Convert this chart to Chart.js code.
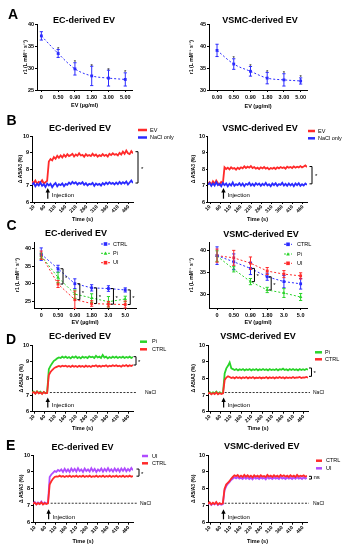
<!DOCTYPE html>
<html><head><meta charset="utf-8">
<script src="https://cdn.jsdelivr.net/npm/chart.js@4.4.0/dist/chart.umd.min.js"></script>
<style>
html,body{margin:0;padding:0;background:#fff;}
#fig{position:relative;width:347px;height:550px;overflow:hidden;background:#fff;}
.cv{position:absolute;}
.lt{position:absolute;font:bold 14px 'Liberation Sans',Arial,sans-serif;line-height:14px;color:#000;z-index:5;}
</style></head><body>
<div id="fig">
<div class="lt" style="left:8px;top:7px">A</div>
<div class="lt" style="left:6.5px;top:113px">B</div>
<div class="lt" style="left:6.5px;top:218px">C</div>
<div class="lt" style="left:6px;top:332px">D</div>
<div class="lt" style="left:6px;top:438px">E</div>
</div>
<script>
// ---------- data ----------
const DOSE_EC_A = ['0','0.50','0.90','1.80','3.00','5.00'];
const DOSE_VSMC_A = ['0.00','0.50','0.90','1.80','3.00','5.00'];
const DOSE_C = ['0','0.50','0.90','1.80','3.0','5.0'];

const A_EC_MEAN = [37.3,33.3,29.8,28.2,27.7,27.4];
const A_EC_ERR  = [0.95,0.9,1.4,2.2,1.8,1.5];
const A_VSMC_MEAN = [39.0,35.9,34.25,32.7,32.3,32.05];
const A_VSMC_ERR  = [1.4,1.2,1.1,1.3,1.4,0.7];

const C_EC_CTRL = [38.5,34.3,30.0,28.8,28.6,28.2];
const C_EC_CTRL_ERR = [1.8,1.0,1.4,0.9,0.8,0.6];
const C_EC_PI = [38.0,31.8,27.0,25.9,24.8,25.6];
const C_EC_PI_ERR = [0.8,1.5,1.2,1.2,1.5,0.8];
const C_EC_UI = [38.2,29.9,25.4,24.3,24.1,24.0];
const C_EC_UI_ERR = [1.2,1.0,2.5,0.8,0.8,1.0];

const C_VSMC_CTRL = [38.9,37.5,36.0,34.1,33.0,32.5];
const C_VSMC_CTRL_ERR = [2.0,1.8,1.4,0.8,1.4,1.2];
const C_VSMC_PI = [38.8,35.8,33.0,31.1,30.4,29.5];
const C_VSMC_PI_ERR = [1.2,0.6,0.7,0.6,1.0,0.8];
const C_VSMC_UI = [38.9,38.4,37.2,35.4,34.7,34.3];
const C_VSMC_UI_ERR = [1.5,1.7,1.4,0.8,0.8,0.7];

const TIME_TICKS = [10,60,110,160,210,260,310,360,410,460];
const TIME_S = [0,8,16,24,32,40,48,56,64,72,80,88,96,104,112,120,128,136,144,152,160,168,176,184,192,200,208,216,224,232,240,248,256,264,272,280,288,296,304,312,320,328,336,344,352,360,368,376,384,392,400,408,416,424,432,440,448,456,464,472,480];

const B_EC_EV = [7.25,7.15,7.30,7.10,7.22,7.18,7.32,7.12,7.20,7.28,
 8.45,8.60,8.52,8.72,8.62,8.80,8.68,8.82,8.70,8.86,
 8.74,8.90,8.78,8.84,8.92,8.76,8.88,8.80,8.95,8.82,
 8.86,8.74,8.90,8.80,8.85,8.78,8.92,8.80,8.88,8.75,
 8.84,8.78,8.90,8.80,8.86,8.76,8.92,8.84,8.95,8.86,
 8.90,8.82,8.98,8.88,9.05,8.92,9.12,8.95,8.90,9.08,8.95];
const B_EC_NACL = [7.05,7.15,6.95,7.10,7.00,7.18,6.98,7.08,6.92,7.12,
 7.00,7.10,6.90,7.05,7.15,6.95,7.08,7.02,7.12,6.96,
 7.10,7.04,7.18,7.08,7.22,7.12,7.20,7.06,7.16,7.10,
 7.20,7.04,7.14,7.00,7.10,7.06,7.16,6.98,7.12,7.04,
 7.10,7.00,7.15,7.05,7.18,7.08,7.20,7.10,7.16,7.06,
 7.18,7.08,7.22,7.10,7.20,7.12,7.24,7.06,7.18,7.30,7.15];
const B_VSMC_EV = [7.10,7.20,7.05,7.25,7.10,7.30,7.15,7.05,7.22,7.12,
 8.10,8.00,8.08,7.98,8.10,8.02,8.06,7.96,8.08,8.00,
 8.10,8.04,8.16,8.06,8.14,8.08,8.18,8.06,8.12,8.02,
 8.08,8.00,8.10,8.04,8.12,8.02,8.08,7.98,8.06,8.02,
 8.08,8.00,8.10,8.04,8.12,8.06,8.10,8.02,8.14,8.08,
 8.12,8.06,8.16,8.08,8.14,8.10,8.18,8.10,8.15,8.22,8.12];
const B_VSMC_NACL = [7.05,7.15,6.98,7.12,7.00,7.20,7.02,7.10,6.95,7.15,
 7.02,7.12,6.95,7.10,7.00,7.18,6.98,7.08,7.02,7.14,
 7.00,7.12,6.96,7.10,7.04,7.16,7.00,7.10,6.98,7.14,
 7.04,7.12,6.98,7.10,7.02,7.16,7.00,7.08,6.96,7.12,
 7.02,7.14,6.98,7.08,7.04,7.16,7.00,7.10,6.98,7.12,
 7.00,7.10,6.96,7.12,7.02,7.14,6.98,7.08,7.00,7.12,7.04];

const D_EC_PI = [7.15,7.20,7.10,7.22,7.12,7.20,7.10,7.18,7.12,7.15,
 8.55,8.75,8.90,9.05,9.12,9.20,9.25,9.22,9.30,9.24,
 9.30,9.22,9.28,9.20,9.30,9.24,9.32,9.22,9.28,9.20,
 9.30,9.24,9.28,9.22,9.32,9.26,9.30,9.22,9.35,9.25,
 9.30,9.22,9.40,9.25,9.30,9.20,9.28,9.22,9.30,9.24,
 9.30,9.22,9.28,9.24,9.30,9.22,9.28,9.24,9.30,9.22,9.28];
const D_EC_CTRL = [7.12,7.18,7.08,7.20,7.10,7.16,7.06,7.18,7.10,7.12,
 8.20,8.38,8.50,8.60,8.66,8.70,8.74,8.70,8.76,8.72,
 8.76,8.70,8.74,8.68,8.76,8.70,8.74,8.68,8.75,8.70,
 8.74,8.68,8.76,8.70,8.74,8.68,8.76,8.72,8.78,8.70,
 8.75,8.70,8.76,8.72,8.78,8.70,8.76,8.72,8.78,8.74,
 8.78,8.72,8.76,8.70,8.78,8.74,8.80,8.72,8.78,8.74,8.80];
const D_VSMC_PI = [7.12,7.18,7.08,7.16,7.10,7.20,7.08,7.16,7.10,7.12,
 8.30,8.60,8.75,8.95,8.60,8.55,8.50,8.56,8.48,8.55,
 8.50,8.56,8.48,8.54,8.50,8.56,8.48,8.55,8.50,8.56,
 8.48,8.54,8.50,8.56,8.50,8.55,8.48,8.56,8.50,8.54,
 8.50,8.56,8.48,8.55,8.52,8.58,8.50,8.55,8.48,8.56,
 8.50,8.56,8.50,8.54,8.48,8.56,8.50,8.55,8.50,8.56,8.52];
const D_VSMC_CTRL = [7.08,7.14,7.04,7.12,7.06,7.16,7.04,7.12,7.06,7.10,
 7.90,8.05,8.12,8.08,8.02,8.06,8.00,8.08,8.02,8.06,
 8.00,8.06,8.02,8.08,8.00,8.06,8.02,8.08,8.00,8.05,
 8.02,8.06,8.00,8.05,8.02,8.08,8.00,8.06,8.02,8.06,
 8.00,8.06,8.02,8.08,8.02,8.06,8.00,8.07,8.02,8.06,
 8.02,8.08,8.02,8.06,8.04,8.08,8.02,8.06,8.04,8.08,8.04];

const E_EC_UI = [7.15,7.22,7.10,7.20,7.12,7.25,7.10,7.20,7.14,7.18,
 8.70,8.85,8.95,9.05,9.00,9.12,9.05,9.15,9.00,9.18,
 9.02,9.15,9.00,9.20,9.05,9.18,9.02,9.22,9.05,9.15,
 9.00,9.20,9.05,9.15,9.02,9.22,9.05,9.18,9.00,9.15,
 9.05,9.20,9.02,9.18,9.05,9.22,9.04,9.16,9.02,9.20,
 9.05,9.18,9.02,9.20,9.06,9.22,9.04,9.18,9.06,9.24,9.10];
const E_EC_CTRL = [7.12,7.18,7.08,7.16,7.10,7.20,7.08,7.16,7.10,7.14,
 8.25,8.45,8.60,8.70,8.74,8.72,8.78,8.72,8.76,8.70,
 8.76,8.72,8.78,8.70,8.76,8.72,8.78,8.70,8.76,8.72,
 8.78,8.70,8.76,8.72,8.78,8.70,8.75,8.72,8.78,8.70,
 8.76,8.72,8.78,8.70,8.76,8.72,8.78,8.70,8.76,8.72,
 8.78,8.70,8.76,8.72,8.78,8.70,8.76,8.72,8.78,8.72,8.76];
const E_VSMC_CTRL = [7.12,7.20,7.08,7.18,7.10,7.22,7.08,7.16,7.10,7.14,
 8.00,8.25,8.35,8.45,8.60,8.70,8.80,8.75,8.82,8.70,
 8.78,8.70,8.82,8.72,8.80,8.70,8.78,8.68,8.80,8.72,
 8.78,8.70,8.80,8.72,8.76,8.70,8.82,8.72,8.78,8.70,
 8.80,8.72,8.78,8.70,8.82,8.74,8.80,8.72,8.78,8.70,
 8.80,8.72,8.78,8.70,8.82,8.72,8.78,8.74,8.80,8.72,8.78];
const E_VSMC_UI = [7.10,7.16,7.05,7.14,7.08,7.18,7.05,7.12,7.06,7.10,
 7.90,8.15,8.30,8.40,8.52,8.60,8.68,8.62,8.70,8.60,
 8.66,8.58,8.70,8.60,8.68,8.58,8.66,8.56,8.70,8.60,
 8.66,8.58,8.68,8.60,8.66,8.56,8.70,8.60,8.66,8.58,
 8.68,8.60,8.66,8.58,8.70,8.60,8.66,8.58,8.68,8.60,
 8.66,8.58,8.68,8.60,8.70,8.60,8.66,8.58,8.68,8.60,8.66];

const INJECTION_T = 75;
const NACL_LEVEL = 7.15;

// ---------- styling ----------
const F = "'Liberation Sans', Arial, sans-serif";
Chart.defaults.font.family = F;
Chart.defaults.color = '#000';
const RED='#ff2a2a', BLUE='#2b2bff', GREEN='#2ad42a', PURPLE='#b04cff';
const R1 = 'r1 (L mM\u207B\u00B9 s\u207B\u00B9)';
const DY = '\u0394 A5/A3 (%)';

const gridOpt = ()=>({drawOnChartArea:false,drawTicks:true,tickLength:2,tickColor:'#000',tickWidth:1});
const borderOpt = ()=>({display:true,color:'#000',width:1});
function axisY(min,max,ticks,wy,title){
  return {type:'linear',position:'left',min,max,
    afterBuildTicks:s=>{s.ticks=ticks.map(v=>({value:v}));},
    afterFit:s=>{s.width=wy;},
    grid:gridOpt(),border:borderOpt(),
    ticks:{font:{size:5.5,weight:'bold'},color:'#000',padding:1},
    title:{display:true,text:title,font:{size:5,weight:'bold'},color:'#000',padding:0}};
}
function axisDose(min,max,labels,hx){
  return {type:'linear',position:'bottom',min,max,
    afterBuildTicks:s=>{s.ticks=labels.map((l,i)=>({value:i}));},
    afterFit:s=>{s.height=hx;},
    grid:gridOpt(),border:borderOpt(),
    ticks:{font:{size:5.5,weight:'bold'},color:'#000',padding:2,autoSkip:false,maxRotation:0,minRotation:0,
      callback:v=>labels[Math.round(v)]},
    title:{display:true,text:'EV (\u00B5g/ml)',font:{size:5.5,weight:'bold'},color:'#000',padding:0}};
}
function axisTime(hx){
  return {type:'linear',position:'bottom',min:0,max:480,
    afterBuildTicks:s=>{s.ticks=TIME_TICKS.map(v=>({value:v}));},
    afterFit:s=>{s.height=hx;},
    grid:gridOpt(),border:borderOpt(),
    ticks:{font:{size:5,weight:'bold'},color:'#000',padding:0,autoSkip:false,maxRotation:45,minRotation:45},
    title:{display:true,text:'Time (s)',font:{size:5.5,weight:'bold'},color:'#000',padding:0}};
}
function doseDS(vals,color,marker,tension){
  return {data:vals.map((v,i)=>({x:i,y:v})),borderColor:color,backgroundColor:color,borderWidth:1,
    borderDash:[2,2],tension:tension,cubicInterpolationMode:tension?'monotone':'default',
    pointStyle:marker,pointRadius:2,pointBackgroundColor:color,pointBorderColor:color,pointBorderWidth:0};
}
function tsDS(vals,color){
  return {data:vals.map((v,i)=>({x:TIME_S[i],y:v})),borderColor:color,backgroundColor:color,
    borderWidth:1.8,pointRadius:0,tension:0};
}
function marker(ctx,x,y,style,color,r){
  ctx.fillStyle=color;
  if(style==='triangle'){ctx.beginPath();ctx.moveTo(x,y-r);ctx.lineTo(x+r,y+r*0.8);ctx.lineTo(x-r,y+r*0.8);ctx.closePath();ctx.fill();}
  else ctx.fillRect(x-r,y-r,2*r,2*r);
}

function annoPlugin(spec){
  return {id:'anno',afterDatasetsDraw(chart){
    const a=spec.anno, ctx=chart.ctx, xs=chart.scales.x, ys=chart.scales.y, ca=chart.chartArea;
    const ox=spec.rect[0], oy=spec.rect[1];
    const px=v=>xs.getPixelForValue(v), py=v=>ys.getPixelForValue(v);
    ctx.save();
    ctx.lineCap='butt';
    if(a.err) a.err.forEach(e=>{
      ctx.strokeStyle=e.color;ctx.lineWidth=1;ctx.beginPath();
      e.vals.forEach((v,i)=>{const x=px(i),t=py(v+e.errs[i]),b=py(v-e.errs[i]);
        ctx.moveTo(x,t);ctx.lineTo(x,b);ctx.moveTo(x-1.6,t);ctx.lineTo(x+1.6,t);ctx.moveTo(x-1.6,b);ctx.lineTo(x+1.6,b);});
      ctx.stroke();});
    if(a.stars){const s=a.stars;ctx.fillStyle='#000';ctx.font='6px '+F;ctx.textAlign='center';ctx.textBaseline='alphabetic';
      s.vals.forEach((v,i)=>{if(i<s.from)return;ctx.fillText('*',px(i),py(v+s.errs[i])+1.5);});}
    if(a.brackets) a.brackets.forEach(b=>{
      const x=(b.xi!=null?px(b.xi):ca.right)+b.dx, y1=py(b.v1), y2=py(b.v2);
      ctx.strokeStyle='#000';ctx.lineWidth=1;ctx.beginPath();
      ctx.moveTo(x-2.5,y1);ctx.lineTo(x,y1);ctx.lineTo(x,y2);ctx.lineTo(x-2.5,y2);ctx.stroke();
      if(b.text){ctx.fillStyle='#000';ctx.font='6px '+F;ctx.textAlign='left';ctx.textBaseline='middle';
        ctx.fillText(b.text,x+b.tdx,(y1+y2)/2+(b.text==='*'?1.5:0));}
    });
    if(a.arrow){const r=a.arrow,x=px(r.t),yt=py(r.vTop),yb=py(r.vBot);
      ctx.strokeStyle='#000';ctx.fillStyle='#000';ctx.lineWidth=1.2;
      ctx.beginPath();ctx.moveTo(x,yb);ctx.lineTo(x,yt+3);ctx.stroke();
      ctx.beginPath();ctx.moveTo(x,yt);ctx.lineTo(x-2.2,yt+4.5);ctx.lineTo(x+2.2,yt+4.5);ctx.closePath();ctx.fill();
      ctx.font='6px '+F;ctx.textAlign='left';ctx.textBaseline='middle';ctx.fillText(r.text,x+4,py(r.vText));}
    if(a.nacl){const n=a.nacl,y=py(n.v);
      ctx.strokeStyle='#000';ctx.lineWidth=0.8;ctx.setLineDash([2,1.5]);ctx.beginPath();
      ctx.moveTo(px(n.t0),y);ctx.lineTo(ca.right+n.ext,y);ctx.stroke();ctx.setLineDash([]);
      ctx.fillStyle='#000';ctx.font='5px '+F;ctx.textAlign='left';ctx.textBaseline='middle';ctx.fillText('NaCl',n.tx-ox,y);}
    if(a.title){ctx.fillStyle='#000';ctx.font='bold 9px '+F;ctx.textAlign='center';ctx.textBaseline='middle';
      ctx.fillText(a.title.text,a.title.x-ox,a.title.y-oy);}
    if(a.legend){const L=a.legend;
      L.items.forEach(it=>{const y=it.y-oy,x0=L.sx0-ox,x1=L.sx1-ox;ctx.strokeStyle=it.color;
        if(L.style==='band'){ctx.lineWidth=2.5;ctx.beginPath();ctx.moveTo(x0,y);ctx.lineTo(x1,y);ctx.stroke();}
        else{ctx.lineWidth=1;ctx.setLineDash([2,1.5]);ctx.beginPath();ctx.moveTo(x0,y);ctx.lineTo(x1,y);ctx.stroke();ctx.setLineDash([]);
          marker(ctx,(x0+x1)/2,y,it.marker,it.color,1.8);}
        ctx.fillStyle='#000';ctx.font='5.5px '+F;ctx.textAlign='left';ctx.textBaseline='middle';ctx.fillText(it.label,L.tx-ox,y);});}
    ctx.restore();
  }};
}

const fig=document.getElementById('fig');
function build(spec){
  const [cx,cy,cw,ch]=spec.rect, [x0,y0,x1,y1]=spec.plot;
  const div=document.createElement('div');div.className='cv';
  div.style.left=cx+'px';div.style.top=cy+'px';div.style.width=cw+'px';div.style.height=ch+'px';
  const cv=document.createElement('canvas');cv.width=cw;cv.height=ch;cv.style.width=cw+'px';cv.style.height=ch+'px';
  div.appendChild(cv);fig.appendChild(div);
  new Chart(cv,{type:'line',data:{datasets:spec.datasets},
    options:{responsive:false,animation:false,devicePixelRatio:1,
      layout:{padding:{left:x0-spec.wy-cx,top:y0-cy,right:cx+cw-x1,bottom:cy+ch-y1-spec.hx}},
      plugins:{legend:{display:false},title:{display:false},tooltip:{enabled:false}},
      scales:{x:spec.x,y:spec.y}},
    plugins:[annoPlugin(spec)]});
}

// ---------- panels ----------
const timeArrow = (vTop,vBot,vText)=>({t:INJECTION_T,vTop,vBot,text:'Injection',vText});

build({rect:[0,0,178,112],plot:[37,24,132,90],wy:14,hx:19,
  y:axisY(25,40,[25,30,35,40],14,R1),x:axisDose(-0.26,5.4,DOSE_EC_A,19),
  datasets:[doseDS(A_EC_MEAN,BLUE,'rect',0.4)],
  anno:{title:{text:'EC-derived EV',x:84,y:20.5},err:[{vals:A_EC_MEAN,errs:A_EC_ERR,color:BLUE}],
    stars:{vals:A_EC_MEAN,errs:A_EC_ERR,from:1}}});
build({rect:[174,0,173,112],plot:[209,24,307,90],wy:20,hx:20,
  y:axisY(30,45,[30,35,40,45],20,R1),x:axisDose(-0.48,5.38,DOSE_VSMC_A,20),
  datasets:[doseDS(A_VSMC_MEAN,BLUE,'rect',0.4)],
  anno:{title:{text:'VSMC-derived EV',x:260,y:21},err:[{vals:A_VSMC_MEAN,errs:A_VSMC_ERR,color:BLUE}],
    stars:{vals:A_VSMC_MEAN,errs:A_VSMC_ERR,from:1}}});

build({rect:[0,112,178,115],plot:[32,136,133,202],wy:14.3,hx:20.3,
  y:axisY(6,10,[6,7,8,9,10],14.3,DY),x:axisTime(20.3),
  datasets:[tsDS(B_EC_NACL,BLUE),tsDS(B_EC_EV,RED)],
  anno:{title:{text:'EC-derived EV',x:80,y:128.5},
    legend:{sx0:138,sx1:147,tx:150,style:'band',items:[{label:'EV',color:RED,y:130},{label:'NaCl only',color:BLUE,y:137.5}]},
    brackets:[{dx:5,v1:9.05,v2:7.15,text:'*',tdx:3}],arrow:timeArrow(6.85,6.2,6.4)}});
build({rect:[174,112,173,115],plot:[208,136,307,202],wy:17.4,hx:20.3,
  y:axisY(6,10,[6,7,8,9,10],17.4,DY),x:axisTime(20.3),
  datasets:[tsDS(B_VSMC_NACL,BLUE),tsDS(B_VSMC_EV,RED)],
  anno:{title:{text:'VSMC-derived EV',x:260,y:128.5},
    legend:{sx0:308,sx1:315,tx:318,style:'band',items:[{label:'EV',color:RED,y:131},{label:'NaCl only',color:BLUE,y:138.3}]},
    brackets:[{dx:5,v1:8.15,v2:7.1,text:'*',tdx:3}],arrow:timeArrow(6.85,6.2,6.4)}});

const cBr = (a,b,idx,dx)=>idx.map(i=>({xi:i,dx,v1:a[i],v2:b[i],text:'*',tdx:2}));
build({rect:[0,227,178,103],plot:[34,242,136,308],wy:19,hx:17.7,
  y:axisY(23,42,[25,30,35,40],19,R1),x:axisDose(-0.43,5.64,DOSE_C,17.7),
  datasets:[doseDS(C_EC_CTRL,BLUE,'rect',0),doseDS(C_EC_PI,GREEN,'triangle',0),doseDS(C_EC_UI,RED,'rect',0)],
  anno:{title:{text:'EC-derived EV',x:76,y:234},
    err:[{vals:C_EC_CTRL,errs:C_EC_CTRL_ERR,color:BLUE},{vals:C_EC_PI,errs:C_EC_PI_ERR,color:GREEN},{vals:C_EC_UI,errs:C_EC_UI_ERR,color:RED}],
    legend:{sx0:101,sx1:110,tx:113,style:'dose',items:[{label:'CTRL',color:BLUE,y:244,marker:'rect'},{label:'Pi',color:GREEN,y:253.3,marker:'triangle'},{label:'UI',color:RED,y:262.7,marker:'rect'}]},
    brackets:cBr(C_EC_CTRL,C_EC_UI,[1,2,3,4,5],5)}});
build({rect:[174,227,173,103],plot:[209,242,307,308],wy:20,hx:17.7,
  y:axisY(27,42,[30,35,40],20,R1),x:axisDose(-0.48,5.38,DOSE_C,17.7),
  datasets:[doseDS(C_VSMC_CTRL,BLUE,'rect',0),doseDS(C_VSMC_PI,GREEN,'triangle',0),doseDS(C_VSMC_UI,RED,'rect',0)],
  anno:{title:{text:'VSMC-derived EV',x:261,y:235},
    err:[{vals:C_VSMC_CTRL,errs:C_VSMC_CTRL_ERR,color:BLUE},{vals:C_VSMC_PI,errs:C_VSMC_PI_ERR,color:GREEN},{vals:C_VSMC_UI,errs:C_VSMC_UI_ERR,color:RED}],
    legend:{sx0:284,sx1:292,tx:297,style:'dose',items:[{label:'CTRL',color:BLUE,y:244.3,marker:'rect'},{label:'Pi',color:GREEN,y:254,marker:'triangle'},{label:'UI',color:RED,y:263.3,marker:'rect'}]},
    brackets:cBr(C_VSMC_CTRL,C_VSMC_PI,[2,3],4)}});

build({rect:[0,330,178,103],plot:[32,345,133,411.7],wy:13.5,hx:19.6,
  y:axisY(6,10,[6,7,8,9,10],13.5,DY),x:axisTime(19.6),
  datasets:[tsDS(D_EC_CTRL,RED),tsDS(D_EC_PI,GREEN)],
  anno:{title:{text:'EC-derived EV',x:80,y:336.5},
    legend:{sx0:140,sx1:147,tx:152,style:'band',items:[{label:'Pi',color:GREEN,y:341.7},{label:'CTRL',color:RED,y:349.3}]},
    brackets:[{dx:3,v1:9.3,v2:8.8,text:'*',tdx:2}],arrow:timeArrow(6.85,6.25,6.4),
    nacl:{t0:85,v:NACL_LEVEL,ext:4,tx:145}}});
build({rect:[174,330,173,103],plot:[208,345,308,411.7],wy:17,hx:19.6,
  y:axisY(6,10,[6,7,8,9,10],17,DY),x:axisTime(19.6),
  datasets:[tsDS(D_VSMC_CTRL,RED),tsDS(D_VSMC_PI,GREEN)],
  anno:{title:{text:'VSMC-derived EV',x:258,y:336.5},
    legend:{sx0:315,sx1:322,tx:325,style:'band',items:[{label:'Pi',color:GREEN,y:352.3},{label:'CTRL',color:RED,y:359.3}]},
    brackets:[{dx:3.5,v1:8.62,v2:8.12,text:'*',tdx:2}],arrow:timeArrow(6.85,6.25,6.4),
    nacl:{t0:80,v:NACL_LEVEL,ext:2,tx:313}}});

build({rect:[0,433,178,117],plot:[33,455,133,522.7],wy:14.3,hx:22,
  y:axisY(6,10,[6,7,8,9,10],14.3,DY),x:axisTime(22),
  datasets:[tsDS(E_EC_CTRL,RED),tsDS(E_EC_UI,PURPLE)],
  anno:{title:{text:'EC-derived EV',x:82.5,y:448},
    legend:{sx0:142,sx1:148,tx:152,style:'band',items:[{label:'UI',color:PURPLE,y:456},{label:'CTRL',color:RED,y:463.3}]},
    brackets:[{dx:6,v1:9.17,v2:8.75,text:'*',tdx:2}],arrow:timeArrow(6.8,6.2,6.3),
    nacl:{t0:85,v:NACL_LEVEL,ext:4,tx:140}}});
build({rect:[174,433,173,117],plot:[208,455,307,522.7],wy:17.7,hx:22,
  y:axisY(6,10,[6,7,8,9,10],17.7,DY),x:axisTime(22),
  datasets:[tsDS(E_VSMC_CTRL,RED),tsDS(E_VSMC_UI,PURPLE)],
  anno:{title:{text:'VSMC-derived EV',x:261.7,y:447},
    legend:{sx0:316,sx1:322,tx:326,style:'band',items:[{label:'CTRL',color:RED,y:460.7},{label:'UI',color:PURPLE,y:468.3}]},
    brackets:[{dx:4.5,v1:8.74,v2:8.58,text:'ns',tdx:2}],arrow:timeArrow(6.8,6.2,6.3),
    nacl:{t0:80,v:NACL_LEVEL,ext:2,tx:313}}});
</script>
</body></html>
